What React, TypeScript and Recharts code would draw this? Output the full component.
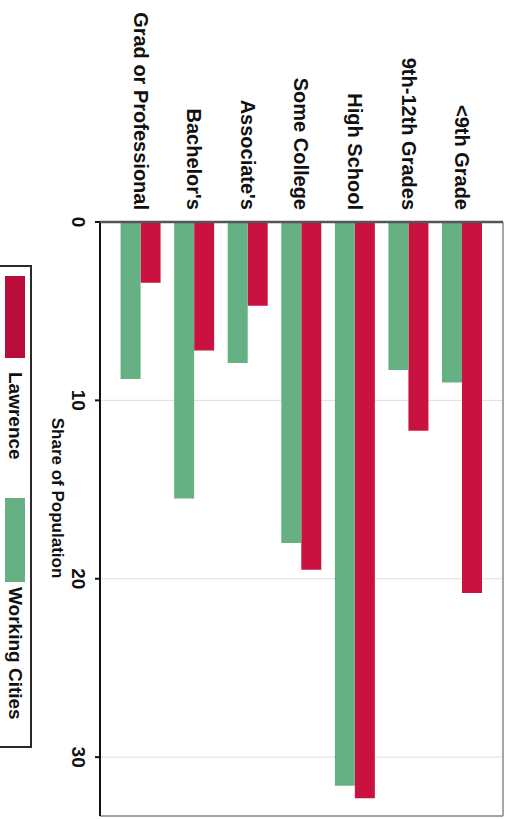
import {
  BarChart,
  Bar,
  XAxis,
  YAxis,
  CartesianGrid,
  Legend,
} from "recharts";

const categories = [
  "<9th Grade",
  "9th-12th Grades",
  "High School",
  "Some College",
  "Associate's",
  "Bachelor's",
  "Grad or Professional",
];
const lawrence = [20.8, 11.7, 32.3, 19.5, 4.7, 7.2, 3.4];
const workingCities = [9.0, 8.3, 31.6, 18.0, 7.9, 15.5, 8.8];
const valueTicks = [0, 10, 20, 30];
const seriesNames = ["Lawrence", "Working Cities"];
const colors = ["#c9123f", "#66b184"];

const data = categories.map((name, i) => ({
  name,
  lawrence: lawrence[i],
  working: workingCities[i],
}));

// the picture is the chart turned a quarter clockwise
const W = 819;
const H = 516;
const MAX = 33.3;
const FONT = "'Liberation Sans', Arial, sans-serif";

function LegendBox() {
  const text = {
    position: "absolute" as const,
    top: 5,
    lineHeight: "20px",
    fontSize: 19,
    fontWeight: 700,
    fontFamily: FONT,
    color: "#111",
    whiteSpace: "nowrap" as const,
  };
  return (
    <div
      style={{
        position: "relative",
        width: 483,
        height: 40,
        boxSizing: "border-box",
        border: "2px solid #2a2a2a",
        background: "#fff",
      }}
    >
      <div style={{ position: "absolute", left: 9, top: 5, width: 82, height: 20, background: "#b80d3a" }} />
      <div style={{ ...text, left: 105 }}>{seriesNames[0]}</div>
      <div style={{ position: "absolute", left: 231, top: 5, width: 84, height: 20, background: colors[1] }} />
      <div style={{ ...text, left: 320 }}>{seriesNames[1]}</div>
    </div>
  );
}

export default function App() {
  return (
    <div
      style={{
        position: "fixed",
        left: 0,
        top: 0,
        width: 516,
        height: 819,
        overflow: "hidden",
        background: "#fff",
      }}
    >
      <div
        style={{
          position: "absolute",
          left: 0,
          top: 0,
          width: W,
          height: H,
          transformOrigin: "0 0",
          transform: "translateX(516px) rotate(90deg)",
        }}
      >
        <BarChart
          layout="vertical"
          width={W}
          height={H}
          data={data}
          margin={{ top: 13, right: 3, bottom: 70, left: 0 }}
          barCategoryGap={7}
          barGap={0}
        >
          <CartesianGrid horizontal={false} stroke="#dedede" />
          <CartesianGrid
            horizontalPoints={[13]}
            verticalPoints={[816]}
            stroke="#8a8a8a"
            strokeWidth={1.5}
          />
          <XAxis
            type="number"
            domain={[0, MAX]}
            ticks={valueTicks}
            interval={0}
            allowDataOverflow
            height={30}
            tickSize={5}
            tickMargin={10}
            stroke="#111"
            strokeWidth={2}
            tick={{ fill: "#111", fontSize: 19, fontWeight: 700, fontFamily: FONT }}
            label={{
              value: "Share of Population",
              position: "bottom",
              offset: 6,
              dx: -21,
              fill: "#111",
              fontSize: 17,
              fontWeight: 700,
              fontFamily: FONT,
            }}
          />
          <YAxis
            type="category"
            dataKey="name"
            width={222}
            tickLine={false}
            tickSize={0}
            tickMargin={12}
            padding={{ top: 14, bottom: 14 }}
            axisLine={{ stroke: "#555", strokeWidth: 2.5 }}
            tick={{ fill: "#111", fontSize: 20, fontWeight: 700, fontFamily: FONT }}
          />
          <Legend
            layout="horizontal"
            verticalAlign="middle"
            align="center"
            content={<LegendBox />}
            wrapperStyle={{ left: 265, top: 484, width: 483, height: 40 }}
          />
          <Bar dataKey="lawrence" name={seriesNames[0]} fill={colors[0]} isAnimationActive={false} />
          <Bar dataKey="working" name={seriesNames[1]} fill={colors[1]} isAnimationActive={false} />
        </BarChart>
      </div>
    </div>
  );
}
